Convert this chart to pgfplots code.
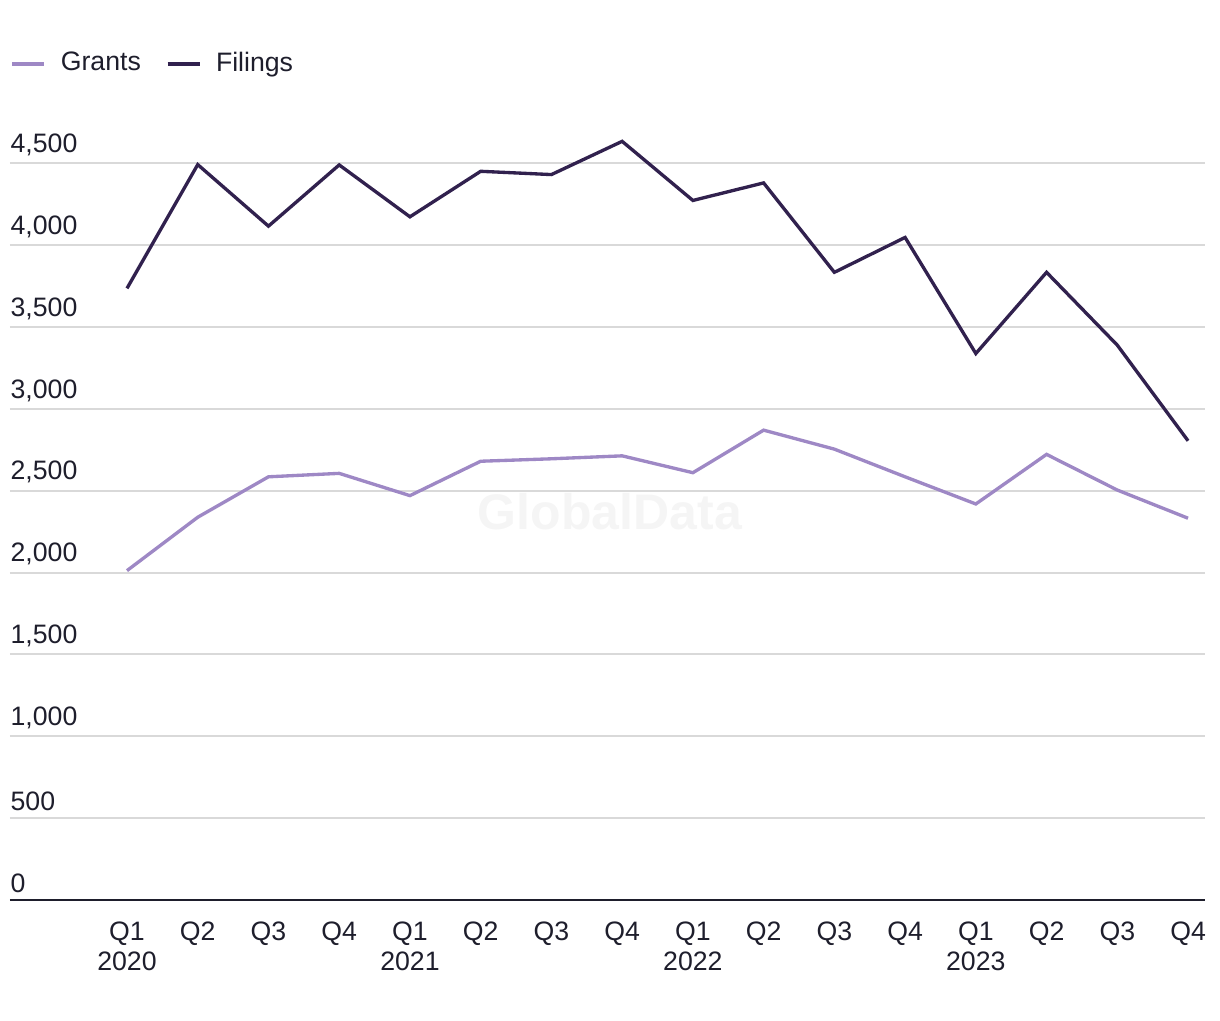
\documentclass[border=0pt]{standalone}
\usepackage{pgfplots}
\pgfplotsset{compat=1.18}
\usepackage{fontspec}
\setmainfont{Liberation Sans}
\definecolor{filings}{HTML}{31214E}
\definecolor{grants}{HTML}{9E88C5}
\definecolor{gridc}{HTML}{D9D9D9}
\definecolor{txt}{HTML}{1E1E2C}
\begin{document}
\begin{tikzpicture}
\useasboundingbox (-3pt,-36pt) rectangle (363pt,270pt);
\begin{axis}[
  at={(0,0)}, anchor=south west,
  scale only axis, width=358.5pt, height=233.3pt,
  xmin=-1.654, xmax=15.24, ymin=0, ymax=4750,
  axis x line*=bottom, axis y line*=left,
  x axis line style={draw=txt, line width=0.75pt, -},
  y axis line style={draw=none},
  major tick length=0pt,
  ytick={0,500,...,4500},
  ymajorgrids, grid style={gridc, line width=0.6pt},
  xtick={0,...,15},
  xticklabels={Q1\\2020,Q2,Q3,Q4,Q1\\2021,Q2,Q3,Q4,Q1\\2022,Q2,Q3,Q4,Q1\\2023,Q2,Q3,Q4},
  xticklabel style={align=center, font=\fontsize{8}{9}\selectfont, text=txt, yshift=-3pt},
  yticklabel style={anchor=south west, inner sep=0pt, xshift=0pt, yshift=2pt, font=\fontsize{8}{9}\selectfont, text=txt},
  /pgf/number format/assume math mode=true,
  /pgf/number format/.cd, 1000 sep={,}, /pgfplots/.cd,
  clip=false,
  legend style={draw=none, fill=none, at={(0,1.075)}, anchor=west, inner sep=0pt,
    font=\fontsize{8}{9}\selectfont, text=txt, legend columns=-1,
    /tikz/every even column/.append style={column sep=5.5pt}},
  legend image code/.code={\draw[#1, line width=1.1pt] (0pt,0pt) -- (9.6pt,0pt); \path (12pt,0pt);},
]
\node[font=\bfseries\fontsize{15}{15}\selectfont, text=black!4] at (axis description cs:0.502,0.499) {GlobalData};
\addplot[grants, line width=1pt] coordinates {
(0,2012) (1,2338) (2,2585) (3,2606) (4,2470) (5,2680) (6,2695) (7,2713)
(8,2610) (9,2870) (10,2754) (11,2585) (12,2419) (13,2722) (14,2504) (15,2332)};
\addlegendentry{Grants}
\addplot[filings, line width=1pt] coordinates {
(0,3736) (1,4492) (2,4116) (3,4490) (4,4173) (5,4451) (6,4431) (7,4634)
(8,4273) (9,4380) (10,3834) (11,4047) (12,3338) (13,3834) (14,3389) (15,2805)};
\addlegendentry{Filings}
\end{axis}
\end{tikzpicture}
\end{document}
